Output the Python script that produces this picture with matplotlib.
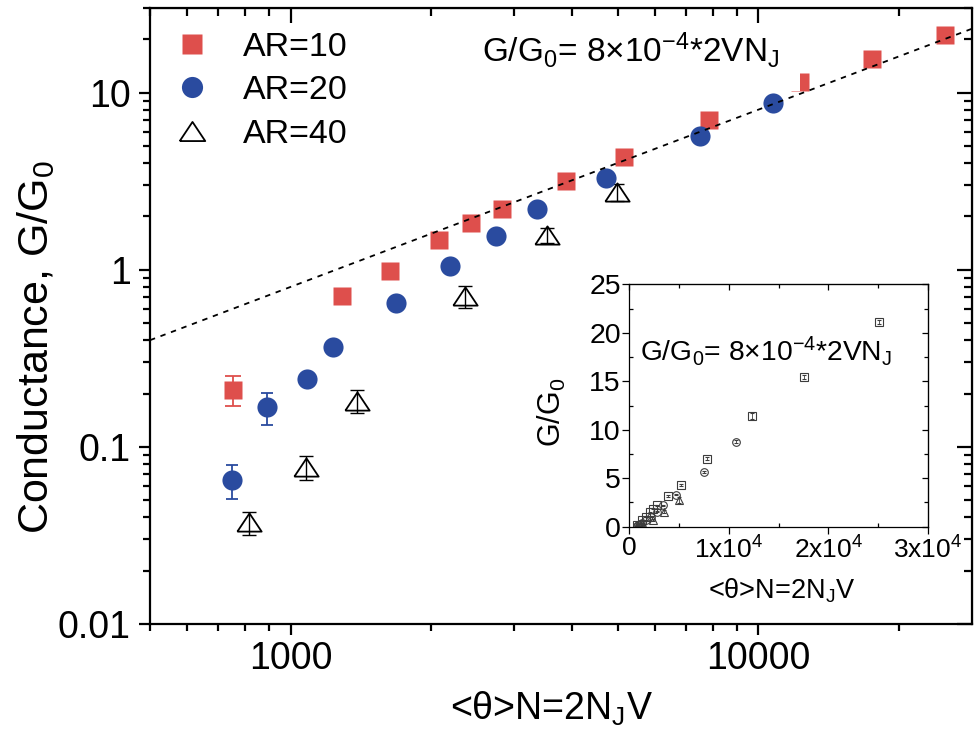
import numpy as np
import matplotlib
matplotlib.use("Agg")
import matplotlib.pyplot as plt
from matplotlib.ticker import (LogLocator, FixedLocator, NullFormatter,
                               MultipleLocator, FuncFormatter)

plt.rcParams['font.family'] = ['Liberation Sans', 'DejaVu Sans']
plt.rcParams['mathtext.fontset'] = 'custom'
plt.rcParams['mathtext.rm'] = 'Liberation Sans'
plt.rcParams['mathtext.it'] = 'Liberation Sans'
plt.rcParams['mathtext.bf'] = 'Liberation Sans:bold'

# ---- data: <theta>N = 2 N_J V  vs  conductance G/G0 ----
x_ar10 = [751, 1290, 1630, 2074, 2425, 2834, 3888, 5154, 7831, 12295, 17545, 25088]
g_ar10 = [0.21, 0.71, 0.98, 1.47, 1.83, 2.21, 3.16, 4.34, 6.99, 11.4, 15.4, 21.1]
e_ar10 = [0.04, 0.02, 0.03, 0.04, 0.05, 0.05, 0.08, 0.10, 0.15, 0.3, 0.2, 0.2]

x_ar20 = [749, 889, 1082, 1234, 1682, 2186, 2742, 3365, 4733, 7516, 10730]
g_ar20 = [0.065, 0.167, 0.241, 0.366, 0.652, 1.05, 1.54, 2.19, 3.28, 5.68, 8.76]
e_ar20 = [0.014, 0.034, 0.012, 0.010, 0.02, 0.03, 0.04, 0.05, 0.06, 0.10, 0.15]

x_ar40 = [815, 1077, 1384, 2358, 3524, 4990]
g_ar40 = [0.0375, 0.0766, 0.182, 0.71, 1.56, 2.74]
e_ar40 = [0.0055, 0.012, 0.027, 0.10, 0.15, 0.30]

fit_coeff = 8e-4          # G/G0 = 8e-4 * 2 V N_J
series_labels = ['AR=10', 'AR=20', 'AR=40']
inset_xticks = [0, 1e4, 2e4, 3e4]
inset_xticklabels = ['0', r'1x10$^{4}$', r'2x10$^{4}$', r'3x10$^{4}$']

RED = '#de4f4c'
BLUE = '#2a4b9f'
tri = [(-1, -0.75), (1, -0.75), (0, 0.75), (-1, -0.75)]

W, H = 974, 734
fig = plt.figure(figsize=(W / 100, H / 100), dpi=100)
fig.patch.set_facecolor('white')


def fx(px):
    return px / W


def fy(py):
    return 1 - py / H


# ---- main log-log panel ----
ax = fig.add_axes([fx(150), fy(624), fx(972) - fx(150), fy(8) - fy(624)])
ax.set_xscale('log')
ax.set_yscale('log')
ax.set_xlim(500, 28650)
ax.set_ylim(0.01, 30)

# error bars under the markers
ax.errorbar(x_ar10, g_ar10, yerr=e_ar10, fmt='none', ecolor=RED,
            elinewidth=1.3, capsize=5.5, capthick=1.3, zorder=1.8)
ax.errorbar(x_ar20, g_ar20, yerr=e_ar20, fmt='none', ecolor=BLUE,
            elinewidth=1.3, capsize=4.5, capthick=1.3, zorder=1.8)
ax.errorbar(x_ar40, g_ar40, yerr=e_ar40, fmt='none', ecolor='black',
            elinewidth=1.0, capsize=5, capthick=1.0, zorder=1.8)

h10, = ax.plot(x_ar10, g_ar10, ls='none', marker='s', ms=13.5,
               mfc=RED, mec='none', label=series_labels[0], zorder=2)
h20, = ax.plot(x_ar20, g_ar20, ls='none', marker='o', ms=14.5,
               mfc=BLUE, mec='none', label=series_labels[1], zorder=2)
h40, = ax.plot(x_ar40, g_ar40, ls='none', marker=tri, ms=17.5,
               mfc='none', mec='black', mew=1.3, label=series_labels[2],
               zorder=2)

xs = np.array(ax.get_xlim())
ax.plot(xs, fit_coeff * xs, color='black', lw=1.3, ls=(0, (3, 3.2)),
        zorder=3)

ax.text((482 - 150) / 822, (624 - 62) / 616,
        r'G/G$_0$= 8×10$^{\mathrm{-4}}$*2VN$_\mathrm{J}$',
        transform=ax.transAxes, fontsize=24, va='baseline', ha='left',
        zorder=2.5,
        bbox=dict(facecolor='white', edgecolor='none',
                  boxstyle='square,pad=0.62'))

leg = ax.legend(handles=[h10, h20, h40], loc='upper left',
                bbox_to_anchor=(0.028, 0.961), frameon=False, fontsize=24.5,
                handlelength=1.1, handletextpad=0.95, labelspacing=0.36,
                borderpad=0, borderaxespad=0, markerscale=1.05)

for s in ax.spines.values():
    s.set_linewidth(1.6)

ax.xaxis.set_major_locator(LogLocator(base=10, numticks=10))
ax.xaxis.set_minor_locator(LogLocator(base=10, subs=np.arange(2, 10), numticks=20))
ax.yaxis.set_major_locator(LogLocator(base=10, numticks=10))
ax.yaxis.set_minor_locator(LogLocator(base=10, subs=np.arange(2, 10), numticks=20))
plain = FuncFormatter(lambda v, p: ('%g' % v) if v < 1 else '%d' % round(v))
ax.xaxis.set_major_formatter(plain)
ax.yaxis.set_major_formatter(plain)
ax.xaxis.set_minor_formatter(NullFormatter())
ax.yaxis.set_minor_formatter(NullFormatter())
ax.tick_params(which='major', direction='out', length=8, width=1.6,
               labelsize=27, top=False, right=False)
ax.tick_params(which='minor', direction='out', length=5, width=1.6,
               top=False, right=False)
ax.tick_params(axis='x', which='major', pad=4)
ax.tick_params(axis='y', which='major', pad=6)

# inward ticks on the opposite sides
axt = ax.secondary_xaxis('top')
axt.set_zorder(4)
axt.xaxis.set_major_locator(LogLocator(base=10, numticks=10))
axt.xaxis.set_minor_locator(LogLocator(base=10, subs=np.arange(2, 10), numticks=20))
axt.tick_params(which='major', direction='in', length=11, width=1.6,
                labeltop=False)
axt.tick_params(which='minor', direction='in', length=6, width=1.6)
axt.xaxis.set_major_formatter(NullFormatter())
axt.xaxis.set_minor_formatter(NullFormatter())
axr = ax.secondary_yaxis('right')
axr.yaxis.set_major_locator(LogLocator(base=10, numticks=10))
axr.yaxis.set_minor_locator(LogLocator(base=10, subs=np.arange(2, 10), numticks=20))
axr.tick_params(which='major', direction='in', length=11, width=1.6,
                labelright=False)
axr.tick_params(which='minor', direction='in', length=6, width=1.6)
axr.yaxis.set_major_formatter(NullFormatter())
axr.yaxis.set_minor_formatter(NullFormatter())

ax.set_xlabel(r'<θ>N=2N$_\mathrm{J}$V', fontsize=27)
ax.xaxis.set_label_coords(0.488, -0.107)
ax.set_ylabel(r'Conductance, G/G$_0$', fontsize=31)
ax.yaxis.set_label_coords(-0.113, 0.45)

# ---- linear inset ----
ins = fig.add_axes([fx(629.3), fy(526.7), fx(927.7) - fx(629.3),
                    fy(284.3) - fy(526.7)])
ins.set_zorder(5)
ins.set_xlim(0, 3e4)
ins.set_ylim(0, 25)
ins.patch.set_facecolor('white')
GREY = '#3c3c3c'
ins.errorbar(x_ar10, g_ar10, yerr=e_ar10, fmt='s', mfc='none', mec=GREY,
             ms=5.5, mew=0.8, ecolor=GREY, elinewidth=0.6, capsize=1.5)
ins.errorbar(x_ar20, g_ar20, yerr=e_ar20, fmt='o', mfc='none', mec=GREY,
             ms=5.5, mew=0.8, ecolor=GREY, elinewidth=0.6, capsize=1.5)
ins.errorbar(x_ar40, g_ar40, yerr=e_ar40, fmt='^', mfc='none', mec=GREY,
             ms=5.5, mew=0.8, ecolor=GREY, elinewidth=0.6, capsize=1.5)
for s in ins.spines.values():
    s.set_linewidth(0.9)
ins.xaxis.set_major_locator(FixedLocator(inset_xticks))
ins.set_xticklabels(inset_xticklabels)
ins.xaxis.set_minor_locator(MultipleLocator(5000))
ins.yaxis.set_major_locator(MultipleLocator(5))
ins.yaxis.set_minor_locator(MultipleLocator(2.5))
ins.tick_params(which='major', direction='out', length=5, width=0.9,
                labelsize=19, pad=1, top=False, right=False)
ins.tick_params(axis='y', which='major', labelsize=20.5)
ins.tick_params(which='minor', direction='in', length=3, width=0.9,
                top=True, right=True)
ins.tick_params(axis='x', which='major', pad=2)
ins_t = ins.secondary_xaxis('top')
ins_t.xaxis.set_major_locator(FixedLocator(inset_xticks))
ins_t.tick_params(direction='in', length=4, width=0.9, labeltop=False)
ins_r = ins.secondary_yaxis('right')
ins_r.yaxis.set_major_locator(MultipleLocator(5))
ins_r.tick_params(direction='in', length=4, width=0.9, labelright=False)

ins.text((640 - 629.3) / 298.4, (526.7 - 361) / 242.4,
         r'G/G$_0$= 8×10$^{\mathrm{-4}}$*2VN$_\mathrm{J}$',
         transform=ins.transAxes, fontsize=20.3, va='baseline', ha='left')
ins.set_xlabel(r'<θ>N=2N$_\mathrm{J}$V', fontsize=19.5)
ins.xaxis.set_label_coords(0.51, -0.205)
ins.set_ylabel(r'G/G$_0$', fontsize=22)
ins.yaxis.set_label_coords(-0.205, 0.47)

fig.savefig('out.png', dpi=100, facecolor='white')
